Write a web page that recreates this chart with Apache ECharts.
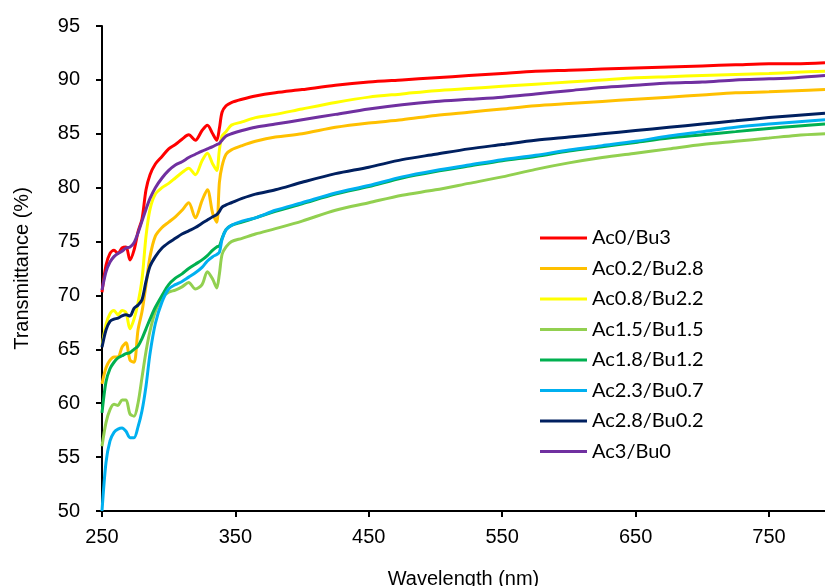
<!DOCTYPE html>
<html>
<head>
<meta charset="utf-8">
<script src="https://cdn.jsdelivr.net/npm/echarts@6/dist/echarts.min.js"></script>
<style>
  html, body { margin: 0; padding: 0; background: #fff; }
  #chart { width: 825px; height: 586px; }
</style>
</head>
<body>
<div id="chart"></div>
<script>
// Wavelength grid (nm) shared by all spectra
const wavelengths = [250, 253, 256, 259, 262, 265, 268, 271, 274, 277, 280, 283, 286, 290, 295, 300, 305, 310, 315, 320, 325, 329, 333, 336, 338, 340, 343, 347, 355, 365, 380, 400, 425, 450, 475, 500, 525, 550, 575, 600, 625, 650, 675, 700, 725, 750, 770, 792];

// Transmittance (%) for each film composition
const ac0_bu3 = [70.3, 72.8, 73.9, 74.2, 73.9, 74.4, 74.5, 73.3, 74.2, 75.9, 77.1, 79.8, 81.2, 82.2, 82.9, 83.6, 84.0, 84.5, 84.9, 84.4, 85.3, 85.8, 85.0, 84.4, 85.5, 87.0, 87.6, 87.9, 88.2, 88.5, 88.8, 89.1, 89.5, 89.8, 90.0, 90.2, 90.4, 90.6, 90.8, 90.9, 91.0, 91.1, 91.2, 91.3, 91.4, 91.5, 91.5, 91.6];
const ac02_bu28 = [61.8, 63.3, 64.0, 64.3, 64.3, 65.2, 65.6, 64.0, 63.8, 66.8, 68.5, 71.0, 73.6, 75.5, 76.3, 76.8, 77.3, 77.9, 78.6, 77.2, 78.8, 79.8, 77.6, 76.8, 80.5, 82.0, 83.1, 83.5, 83.9, 84.3, 84.7, 85.0, 85.6, 86.0, 86.3, 86.7, 87.0, 87.3, 87.6, 87.8, 88.0, 88.2, 88.4, 88.6, 88.8, 88.9, 89.0, 89.1];
const ac08_bu22 = [65.3, 67.3, 68.3, 68.6, 68.2, 68.6, 68.4, 66.9, 67.8, 69.3, 71.5, 75.5, 78.0, 79.4, 80.0, 80.4, 80.9, 81.4, 81.8, 81.2, 82.5, 83.2, 82.2, 81.6, 83.5, 84.8, 85.2, 85.8, 86.1, 86.5, 86.8, 87.3, 87.9, 88.4, 88.7, 89.0, 89.2, 89.4, 89.6, 89.8, 90.0, 90.2, 90.3, 90.4, 90.5, 90.6, 90.7, 90.8];
const ac15_bu15 = [56.0, 58.2, 59.4, 59.9, 59.8, 60.3, 60.3, 59.0, 58.8, 60.0, 62.4, 64.8, 66.7, 68.5, 69.8, 70.3, 70.5, 70.8, 71.2, 70.6, 71.0, 72.2, 71.5, 70.7, 72.0, 73.8, 74.5, 75.0, 75.3, 75.7, 76.2, 76.9, 77.9, 78.6, 79.3, 79.8, 80.4, 81.0, 81.7, 82.3, 82.8, 83.2, 83.6, 84.0, 84.3, 84.6, 84.85, 85.0];
const ac18_bu12 = [59.1, 62.0, 63.2, 63.8, 64.2, 64.4, 64.6, 64.7, 65.0, 65.3, 66.0, 66.9, 67.8, 68.9, 70.0, 71.0, 71.6, 72.0, 72.5, 72.9, 73.3, 73.7, 74.2, 74.5, 74.6, 75.3, 76.1, 76.5, 76.8, 77.2, 77.8, 78.5, 79.4, 80.1, 80.9, 81.5, 82.0, 82.5, 82.9, 83.4, 83.8, 84.2, 84.6, 84.9, 85.2, 85.5, 85.7, 85.9];
const ac23_bu07 = [50.0, 54.5, 56.5, 57.3, 57.6, 57.7, 57.4, 56.8, 56.8, 57.8, 59.3, 61.6, 64.6, 67.4, 69.4, 70.6, 71.0, 71.3, 71.7, 72.1, 72.6, 73.2, 73.6, 73.8, 74.0, 75.2, 76.1, 76.5, 76.9, 77.2, 77.9, 78.6, 79.5, 80.2, 81.0, 81.6, 82.1, 82.6, 83.0, 83.5, 83.9, 84.3, 84.8, 85.2, 85.6, 85.9, 86.1, 86.3];
const ac28_bu02 = [65.2, 66.8, 67.6, 67.8, 67.9, 68.1, 68.2, 68.1, 68.8, 69.1, 69.6, 71.3, 72.7, 73.6, 74.4, 74.9, 75.3, 75.7, 76.0, 76.3, 76.7, 77.0, 77.3, 77.5, 77.8, 78.2, 78.4, 78.6, 79.0, 79.4, 79.8, 80.5, 81.3, 81.9, 82.6, 83.1, 83.6, 84.0, 84.4, 84.7, 85.0, 85.3, 85.6, 85.9, 86.2, 86.5, 86.7, 86.9];
const ac3_bu0 = [70.5, 72.2, 73.1, 73.6, 73.9, 74.1, 74.4, 74.5, 74.9, 75.8, 76.9, 78.0, 79.0, 80.0, 80.9, 81.6, 82.1, 82.4, 82.8, 83.1, 83.4, 83.6, 83.8, 84.0, 84.1, 84.4, 84.8, 85.0, 85.3, 85.6, 85.9, 86.3, 86.8, 87.3, 87.7, 88.0, 88.2, 88.4, 88.7, 89.0, 89.3, 89.5, 89.7, 89.8, 90.0, 90.1, 90.2, 90.4];

const seriesNames = ['Ac0/Bu3', 'Ac0.2/Bu2.8', 'Ac0.8/Bu2.2', 'Ac1.5/Bu1.5', 'Ac1.8/Bu1.2', 'Ac2.3/Bu0.7', 'Ac2.8/Bu0.2', 'Ac3/Bu0'];
const seriesValues = [ac0_bu3, ac02_bu28, ac08_bu22, ac15_bu15, ac18_bu12, ac23_bu07, ac28_bu02, ac3_bu0];
const seriesColors = ['#FF0000', '#FFC000', '#FFFF00', '#92D050', '#00B050', '#00B0F0', '#002060', '#7030A0'];

const chart = echarts.init(document.getElementById('chart'), null, { renderer: 'canvas' });

const series = seriesNames.map((name, i) => ({
  name: name,
  type: 'line',
  data: wavelengths.map((w, j) => [w, seriesValues[i][j]]),
  smooth: 0.3,
  symbol: 'none',
  showSymbol: false,
  lineStyle: { color: seriesColors[i], width: 3 },
  itemStyle: { color: seriesColors[i] },
  clip: true
}));

chart.setOption({
  animation: false,
  backgroundColor: '#ffffff',
  grid: { left: 102, right: 0, top: 26, bottom: 75, containLabel: false, outerBoundsMode: 'none' },
  xAxis: {
    type: 'value',
    min: 250,
    max: 792,
    interval: 100,
    name: 'Wavelength (nm)',
    nameLocation: 'middle',
    nameGap: 58,
    nameTextStyle: { fontFamily: 'Liberation Sans', fontSize: 20, color: '#000' },
    axisLine: { onZero: false, lineStyle: { color: '#000', width: 2 } },
    axisTick: { show: true, inside: false, length: 6, lineStyle: { color: '#000', width: 2 } },
    axisLabel: { fontFamily: 'Liberation Sans', fontSize: 20, color: '#000', margin: 16, showMaxLabel: false },
    splitLine: { show: false }
  },
  yAxis: {
    type: 'value',
    min: 50,
    max: 95,
    interval: 5,
    name: 'Transmittance (%)',
    nameLocation: 'middle',
    nameGap: 70,
    nameTextStyle: { fontFamily: 'Liberation Sans', fontSize: 20, color: '#000' },
    axisLine: { show: true, lineStyle: { color: '#000', width: 2 } },
    axisTick: { show: true, inside: false, length: 6, lineStyle: { color: '#000', width: 2 } },
    axisLabel: { fontFamily: 'Liberation Sans', fontSize: 20, color: '#000', margin: 22 },
    splitLine: { show: false }
  },
  legend: {
    orient: 'vertical',
    left: 535,
    top: 221,
    itemWidth: 47,
    itemHeight: 14,
    itemGap: 6.5,
    icon: 'path://M0,5.5 L47,5.5 L47,8.5 L0,8.5 Z',
    textStyle: { fontFamily: 'Lato', fontSize: 20, color: '#000', lineHeight: 24 },
    data: seriesNames.map((n, i) => ({ name: n, itemStyle: { color: seriesColors[i] } }))
  },
  series: series
});
</script>
</body>
</html>
